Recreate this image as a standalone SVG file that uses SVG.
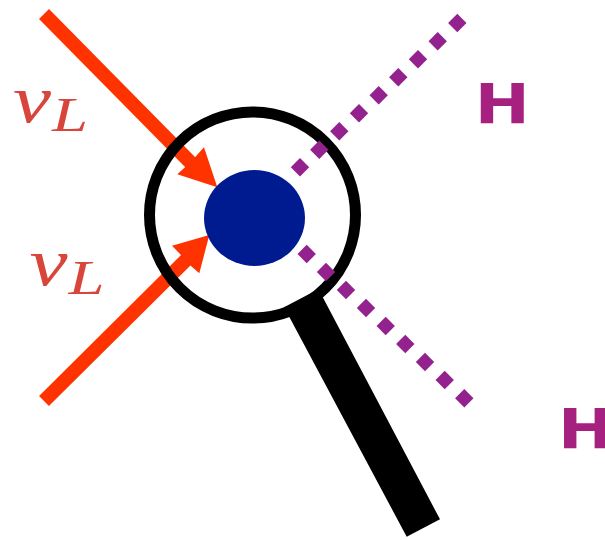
<svg xmlns="http://www.w3.org/2000/svg" xmlns:xlink="http://www.w3.org/1999/xlink" width="605" height="540" viewBox="0 0 605 540">
  <style>
    .nu { fill: #d8453a; font-family: "Liberation Serif", serif; font-style: italic; }
    .h { fill: #a6217f; font-family: "DejaVu Sans", sans-serif; font-weight: bold; font-size: 55px; }
    .red { stroke: #ff3300; stroke-width: 14; fill: none; }
    .head { fill: #ff3300; }
    .dot { fill: #93228f; }
  </style>
  <defs>
    <polygon id="d" class="dot" points="0,-9.2 9.2,0 0,9.2 -9.2,0"/>
  </defs>
  <rect width="605" height="540" fill="#ffffff"/>
  <g id="connectors-in">
    <line class="red" x1="44" y1="14" x2="192" y2="164"/>
    <polygon class="head" points="217.3,187.3 204,147.3 195,157.3 185,167.3 177.3,174.3"/>
    <line class="red" x1="44" y1="401" x2="187" y2="259"/>
    <polygon class="head" points="209.3,235 172,245.7 181,255 190.7,265.7 199.3,273.3"/>
  </g>
  <g id="magnifier">
    <circle cx="252.5" cy="215" r="103" fill="none" stroke="#000000" stroke-width="11"/>
    <polygon points="284,307.3 318.3,289.3 323.3,298.3 440,519.3 406.7,536.7 290,318.3" fill="#000000"/>
  </g>
  <g id="vertex">
    <ellipse cx="254.5" cy="218" rx="50.5" ry="48" fill="#001a8f"/>
  </g>
  <g id="connectors-out">
    <use href="#d" x="300" y="167.3"/><use href="#d" x="319.3" y="149.7"/><use href="#d" x="339.3" y="131.3"/>
    <use href="#d" x="359" y="113.3"/><use href="#d" x="378.7" y="95.3"/><use href="#d" x="398.3" y="77.3"/>
    <use href="#d" x="418" y="59.3"/><use href="#d" x="437.7" y="41.3"/><use href="#d" x="457.3" y="23"/>
    <use href="#d" x="306.7" y="254"/><use href="#d" x="326" y="272"/><use href="#d" x="346" y="290"/>
    <use href="#d" x="366" y="308"/><use href="#d" x="385.7" y="326"/><use href="#d" x="405.3" y="344"/>
    <use href="#d" x="425" y="362"/><use href="#d" x="444.7" y="380"/><use href="#d" x="464.3" y="398.3"/>
  </g>
  <g id="label-nu-1">
    <text class="nu" x="13" y="122" font-size="68" textLength="38" lengthAdjust="spacingAndGlyphs">ν</text>
    <text class="nu" x="52" y="130.5" font-size="48" textLength="36" lengthAdjust="spacingAndGlyphs">L</text>
  </g>
  <g id="label-nu-2">
    <text class="nu" x="29.5" y="285" font-size="68" textLength="38" lengthAdjust="spacingAndGlyphs">ν</text>
    <text class="nu" x="68.5" y="293.5" font-size="48" textLength="36" lengthAdjust="spacingAndGlyphs">L</text>
  </g>
  <g id="label-h-1"><text class="h" x="474.7" y="122.7" textLength="55" lengthAdjust="spacingAndGlyphs">H</text></g>
  <g id="label-h-2"><text class="h" x="558" y="448.3" textLength="55" lengthAdjust="spacingAndGlyphs">H</text></g>
</svg>
